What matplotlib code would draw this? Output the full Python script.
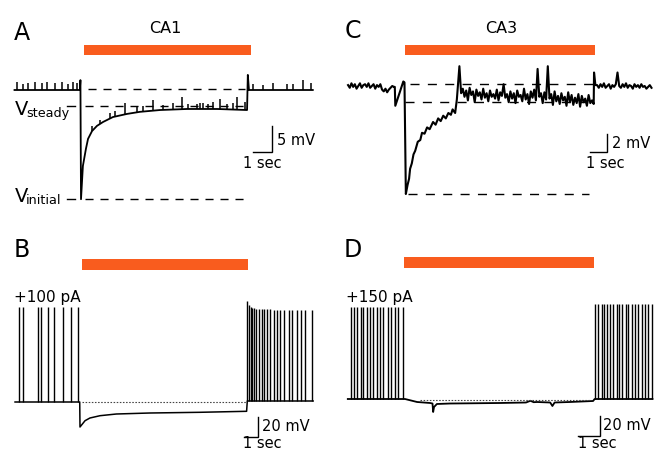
import numpy as np
import matplotlib
matplotlib.use("Agg")
import matplotlib.pyplot as plt

W, H = 654, 452
ORANGE = "#F95C1E"

# ---------------- data (time in s, voltage in mV) ----------------
# A: CA1 voltage response
a_trace_t = [-3.5, -0.06, -0.03, 0.0, 0.1, 0.26, 0.37, 0.58, 0.84, 1.16, 1.68,
             2.42, 3.1, 4.16, 5.58, 7.16, 8.74, 8.78, 8.84, 12.2]
a_trace_v = [0.0, 0.0, 1.9, -21.0, -14.6, -11.3, -9.4, -7.9, -6.9, -6.15, -5.2,
             -4.6, -4.2, -3.85, -3.65, -3.65, -3.85, 2.9, 0.0, 0.0]
a_epsp_t = [-3.38, -3.07, -2.77, -2.42, -2.07, -1.77, -1.37, -1.02, -0.67, -0.41, -0.23,
            0.58, 1.0, 1.53, 1.79, 2.32, 2.95, 3.26, 3.79, 4.32, 4.84, 5.32, 5.63,
            6.1, 6.26, 6.42, 6.68, 6.95, 7.32, 7.68, 8.0, 8.2, 8.63,
            9.05, 9.58, 10.1, 10.84, 11.16, 11.68, 12.1]
a_epsp_amp = [1.5, 1.2, 1.4, 1.6, 1.3, 1.5, 1.4, 1.6, 1.2, 1.5, 1.3,
              0.9, 0.8, 1.0, 1.1, 2.2, 1.0, 1.1, 2.0, 1.0, 1.2, 2.3, 1.0,
              0.9, 1.1, 1.2, 1.0, 1.3, 2.0, 1.1, 1.2, 2.4, 1.5,
              1.2, 1.0, 1.3, 1.1, 1.2, 2.0, 1.3]
a_light = (0.16, 8.93)
a_baseline, a_vsteady, a_vinitial = 0.2, -3.1, -21.0

# C: CA3 voltage response
c_pre_v = [0.1, -0.2, 0.3, -0.1, 0.2, -0.3, 0.0, 0.3, -0.2, 0.1,
           0.2, -0.1, 0.3, -0.2, 0.0, 0.2, -0.3, 0.1, -0.1, 0.2,
           -0.4, -0.6, -0.3, -0.7, -0.4, -0.2, 0.0, -0.1]
c_onset_t = [-0.6, -0.57, -0.1, -0.03]
c_onset_v = [-0.1, -2.2, 0.5, 0.4]
c_rec_t = [0.05, 0.15, 0.24, 0.3, 0.4, 0.5, 0.6, 0.75, 0.9, 1.0, 1.15, 1.3, 1.45,
           1.65, 1.8, 1.95, 2.1, 2.25, 2.4, 2.55, 2.7, 2.8, 2.95, 3.05, 3.2, 3.3]
c_rec_v = [-12.0, -11.0, -10.3, -9.2, -8.6, -7.6, -7.2, -6.2, -6.0, -5.2, -5.3, -4.6, -4.8,
           -4.0, -4.3, -3.6, -3.9, -3.3, -3.6, -3.0, -3.2, -2.6, -3.0, -1.5, 2.2, -0.8]
c_steady_v = [-0.3, -1.2, -0.5, -1.6, -0.2, -1.0, -0.6, -1.8, -0.4, -1.1,
              -0.7, -1.5, -0.3, -1.3, -0.8, -1.7, -0.5, -1.2, -0.9, -1.4,
              -0.4, -1.6, -0.7, -1.1, 0.2, -1.3, -0.9, -1.8, -0.6, -1.4,
              -0.8, -1.9, -0.5, -1.2, -1.0, -1.7, -0.3, -1.5, -0.9, -2.0,
              -0.6, -1.3, -0.4, -1.6, 1.9, -1.2, -0.8, -1.9, -0.7, -1.5,
              2.2, -1.4, -0.9, -2.1, -0.6, -1.7, -1.1, -2.0, -0.8, -1.6,
              -1.2, -2.2, -0.7, -1.8, -1.0, -2.1, -1.3, -1.9, -0.9, -2.3,
              -1.1, -1.8, -1.4, -2.2, -1.0, -1.9, -1.6, -2.0]
c_off_t = [11.12, 11.2]
c_off_v = [1.5, 0.1]
c_post_v = [0.1, -0.2, 0.2, -0.1, 0.3, -0.2, 0.0, 0.2, -0.3, 0.1, -0.1, 0.2, 1.5,
            0.0, -0.2, 0.2, -0.1, 0.3, -0.2, 0.1, 0.0, -0.3, 0.2, -0.1, 0.1, -0.2,
            0.2, -0.1, 0.0, -0.3, -0.1, 0.1, -0.2]
c_light = (0.0, 11.18)
c_baseline, c_vsteady, c_vinitial = 0.2, -1.8, -12.0

# B: CA1 firing, +100 pA
b_base_t = [-4.64, -0.02, 0.0, 0.36, 0.71, 1.43, 2.6, 5.0, 8.57, 11.9, 11.95, 16.65]
b_base_v = [0.0, 0.0, -25.0, -18.7, -16.0, -13.7, -12.0, -11.0, -10.3, -9.3, 1.0, 1.0]
b_pre_spikes = [-4.34, -4.05, -3.02, -2.79, -2.31, -1.84, -1.24, -0.64, -0.16]
b_pre_peak = 95
b_post_spikes = [11.95, 12.1, 12.2, 12.3, 12.45, 12.6, 12.8, 12.98, 13.16, 13.38, 13.6,
                 13.86, 14.1, 14.3, 14.6, 14.9, 15.16, 15.5, 15.79, 16.1, 16.55]
b_post_peaks = [101, 97, 95, 94, 94, 93, 93, 93, 93, 93, 93,
                92, 92, 92, 92, 92, 92, 92, 92, 92, 92]
b_light = (0.12, 12.0)

# D: CA3 firing, +150 pA
d_base_t = [-2.6, -0.05, 0.0, 0.55, 1.14, 1.25, 1.28, 1.32, 1.45, 2.05, 3.0, 4.3,
            5.5, 5.7, 5.85, 6.0, 6.6, 6.7, 6.8, 7.5, 8.55, 8.62, 11.25]
d_base_v = [0.0, 0.0, 0.0, -3.0, -4.0, -4.5, -13.0, -8.0, -5.0, -4.5, -4.3, -4.0,
            -3.5, -1.8, -3.2, -3.0, -3.5, -7.0, -3.5, -3.0, -2.0, 0.0, 0.0]
d_pre_spikes = [-2.47, -2.32, -2.2, -2.01, -1.89, -1.74, -1.59, -1.44, -1.29, -1.14,
                -0.99, -0.76, -0.65, -0.45, -0.30, -0.08]
d_pre_peak = 92
d_post_spikes = [8.64, 8.79, 8.94, 9.06, 9.17, 9.32, 9.47, 9.62, 9.74, 9.88, 10.03,
                 10.15, 10.31, 10.45, 10.61, 10.76, 10.91, 11.06, 11.21]
d_post_peak = 95
d_light = (-0.05, 8.6)


def panel_axes(fig, box, x0, px_per_s, v0, px_per_mv):
    # box in pixels (left, top, right, bottom); x0/v0 = pixel of t=0 / V=0
    L, T, R, B = box
    ax = fig.add_axes([L / W, 1 - B / H, (R - L) / W, (B - T) / H])
    ax.set_xlim((L - x0) / px_per_s, (R - x0) / px_per_s)
    ax.set_ylim((v0 - B) / px_per_mv, (v0 - T) / px_per_mv)
    ax.axis("off")
    return ax


def light_bar(ax, light, v_lo, v_hi):
    ax.fill_between(light, v_lo, v_hi, color=ORANGE, lw=0)


def scale_bar(ax, t_right, v_bottom, t_len, v_len, v_label, t_label, v_xy, t_xy):
    ax.plot([t_right - t_len, t_right, t_right], [v_bottom, v_bottom, v_bottom + v_len],
            color="k", lw=1.0, solid_joinstyle="miter")
    ax.text(v_xy[0], v_xy[1], v_label, ha="left", va="center", fontsize=10.5)
    ax.text(t_xy[0], t_xy[1], t_label, ha="center", va="baseline", fontsize=10.5)


fig = plt.figure(figsize=(W / 100, H / 100), dpi=100)

# ---- A ----
ax = panel_axes(fig, (0, 0, 327, 220), 81, 19.0, 91, 5.2)
light_bar(ax, a_light, 6.8, 8.7)
ax.plot(a_trace_t, a_trace_v, color="k", lw=1.3)
epsp_base = np.interp(a_epsp_t, a_trace_t, a_trace_v)
ax.vlines(a_epsp_t, epsp_base, epsp_base + np.array(a_epsp_amp), color="k", lw=1.1)
dash = (0, (5.8, 5.0))
ax.plot([0.37, 8.63], [a_baseline] * 2, color="k", lw=1.0, ls=dash)
ax.plot([0.2, 8.63], [a_vsteady] * 2, color="k", lw=1.0, ls=dash)
ax.plot([0.2, 8.63], [a_vinitial] * 2, color="k", lw=1.0, ls=dash)
ax.plot([-0.74, -0.32], [a_vsteady] * 2, color="k", lw=1.0)
ax.plot([-0.74, -0.32], [a_vinitial] * 2, color="k", lw=1.0)
ax.text(-3.5, (91 - 115) / 5.2, "V", fontsize=14, va="baseline", ha="left")
ax.text(-2.9, (91 - 117) / 5.2, "steady", fontsize=9.2, va="baseline", ha="left")
ax.text(-3.5, (91 - 202) / 5.2, "V", fontsize=14, va="baseline", ha="left")
ax.text(-2.9, (91 - 204) / 5.2, "initial", fontsize=9.2, va="baseline", ha="left")
scale_bar(ax, 10.05, -11.9, 1.0, 5.0, "5 mV", "1 sec", (10.3, -9.6), (9.53, -14.8))

# ---- C ----
ax = panel_axes(fig, (327, 0, 654, 220), 405, 17.0, 87, 9.0)
light_bar(ax, c_light, 3.5, 4.6)
c_t = np.concatenate([-3.35 + 0.1 * np.arange(len(c_pre_v)), c_onset_t, c_rec_t,
                      3.4 + 0.1 * np.arange(len(c_steady_v)), c_off_t,
                      11.3 + 0.1 * np.arange(len(c_post_v))])
c_v = np.concatenate([c_pre_v, c_onset_v, c_rec_v, c_steady_v, c_off_v, c_post_v])
ax.plot(c_t, c_v, color="k", lw=1.5)
cdash = (0, (6.5, 6.0))
ax.plot([0.3, 11.2], [c_baseline] * 2, color="k", lw=1.0, ls=cdash)
ax.plot([0.0, 11.2], [c_vsteady] * 2, color="k", lw=1.0, ls=cdash)
ax.plot([0.2, 10.8], [c_vinitial] * 2, color="k", lw=1.0, ls=cdash)
scale_bar(ax, 11.88, -7.33, 1.0, 2.0, "2 mV", "1 sec", (12.15, -6.33), (11.76, -9.0))

# ---- B ----
ax = panel_axes(fig, (0, 220, 327, 452), 80, 14.0, 403, 1.0)
light_bar(ax, b_light, 132, 143)
ax.plot(b_base_t, b_base_v, color="k", lw=1.1)
ax.vlines(b_pre_spikes, 0, b_pre_peak, color="k", lw=1.0)
ax.vlines(b_post_spikes, 1.0, b_post_peaks, color="k", lw=1.0)
dot = (0, (1.4, 1.4))
ax.plot([0.14, 11.9], [0, 0], color="#444444", lw=0.8, ls=dot)
scale_bar(ax, 12.71, -35, 1.0, 20, "20 mV", "1 sec", (13.0, -24), (13.0, -45.5))

# ---- D ----
ax = panel_axes(fig, (327, 220, 654, 452), 405, 22.0, 400, 1.0)
light_bar(ax, d_light, 130.7, 141.7)
ax.plot(d_base_t, d_base_v, color="k", lw=1.3)
ax.vlines(d_pre_spikes, 0, d_pre_peak, color="k", lw=1.0)
ax.vlines(d_post_spikes, 0, d_post_peak, color="k", lw=1.0)
ax.plot([0.68, 8.4], [-1, -1], color="#444444", lw=0.8, ls=dot)
scale_bar(ax, 8.86, -37, 1.0, 20, "20 mV", "1 sec", (9.0, -26), (8.73, -48.5))

# ---- panel labels ----
def ftext(x, y, s, **kw):
    fig.text(x / W, 1 - y / H, s, va="baseline", **kw)


ftext(14, 40, "A", fontsize=17)
ftext(345, 38, "C", fontsize=17)
ftext(14, 257, "B", fontsize=17)
ftext(344, 257, "D", fontsize=17)
ftext(165, 33, "CA1", fontsize=11.5, ha="center")
ftext(501, 33, "CA3", fontsize=11.5, ha="center")
ftext(14, 302, "+100 pA", fontsize=11)
ftext(346, 302, "+150 pA", fontsize=11)

fig.savefig("out.png", dpi=100)
